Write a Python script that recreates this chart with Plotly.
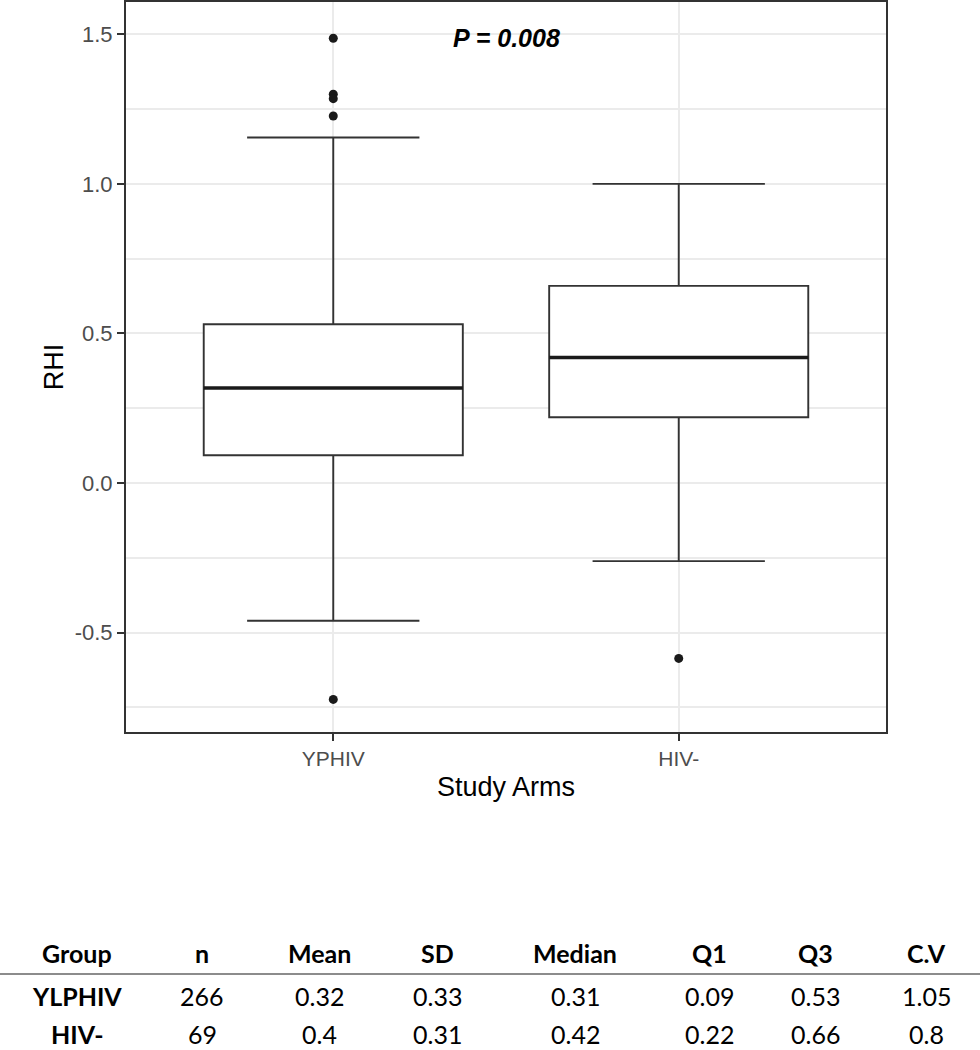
import plotly.graph_objects as go

# ---- box plot data ----
arms = ["YPHIV", "HIV-"]
arm_pos = [0, 1]
box_q1 = [0.093, 0.220]
box_median = [0.318, 0.420]
box_q3 = [0.531, 0.659]
box_lower = [-0.460, -0.261]
box_upper = [1.155, 1.000]
outliers_yphiv = [1.487, 1.300, 1.285, 1.227, -0.723]
outliers_hiv = [-0.586]
p_text = "P = 0.008"

# ---- summary table ----
tbl_header = ["Group", "n", "Mean", "SD", "Median", "Q1", "Q3", "C.V"]
tbl_group = ["YLPHIV", "HIV-"]
tbl_n = ["266", "69"]
tbl_mean = ["0.32", "0.4"]
tbl_sd = ["0.33", "0.31"]
tbl_median = ["0.31", "0.42"]
tbl_q1 = ["0.09", "0.22"]
tbl_q3 = ["0.53", "0.66"]
tbl_cv = ["1.05", "0.8"]

W, H = 980, 1050
ML, MR, MT, MB = 126, 94, 2, 318
PW, PH = W - ML - MR, H - MT - MB
BOXW = 0.75
LINE = "#333333"

def px_x(px):
    return (px - ML) / PW

def px_y(py):
    return (H - MB - py) / PH

fig = go.Figure()

for i in range(len(arms)):
    fig.add_trace(go.Box(
        x=[arm_pos[i]], q1=[box_q1[i]], median=[box_median[i]], q3=[box_q3[i]],
        lowerfence=[box_lower[i]], upperfence=[box_upper[i]],
        width=BOXW, whiskerwidth=0.665, boxpoints=False,
        fillcolor="white", line=dict(color=LINE, width=1.9),
        showlegend=False, hoverinfo="skip"))
    # thicker median line
    fig.add_trace(go.Scatter(
        x=[arm_pos[i] - BOXW / 2, arm_pos[i] + BOXW / 2],
        y=[box_median[i], box_median[i]], mode="lines",
        line=dict(color="#1A1A1A", width=3.4), showlegend=False, hoverinfo="skip"))

fig.add_trace(go.Scatter(
    x=[arm_pos[0]] * len(outliers_yphiv) + [arm_pos[1]] * len(outliers_hiv),
    y=outliers_yphiv + outliers_hiv, mode="markers",
    marker=dict(color="#1A1A1A", size=9), showlegend=False, hoverinfo="skip"))

fig.add_annotation(x=0.5, y=1.489, xref="x", yref="y", text="<b><i>" + p_text + "</i></b>",
                   showarrow=False, font=dict(family="Liberation Sans, Arial", size=25, color="black"))

# table
col_x = [77, 202, 319, 437, 575, 709, 815, 926]
row_y = [953, 996, 1034]
TF = "Lato, Liberation Sans, sans-serif"
for j, h in enumerate(tbl_header):
    fig.add_annotation(x=px_x(col_x[j]), y=px_y(row_y[0]), xref="paper", yref="paper",
                       text="<b>" + h + "</b>", showarrow=False, xanchor="center", yanchor="middle",
                       font=dict(family=TF, size=25, color="black"))
cols = [tbl_group, tbl_n, tbl_mean, tbl_sd, tbl_median, tbl_q1, tbl_q3, tbl_cv]
for r in range(len(tbl_group)):
    for j, col in enumerate(cols):
        txt = col[r]
        if j == 0:
            txt = "<b>" + txt + "</b>"
        fig.add_annotation(x=px_x(col_x[j]), y=px_y(row_y[r + 1]), xref="paper", yref="paper",
                           text=txt, showarrow=False, xanchor="center", yanchor="middle",
                           font=dict(family=TF, size=25, color="black"))

fig.add_shape(type="line", xref="paper", yref="paper", x0=px_x(0), x1=px_x(W),
              y0=px_y(974), y1=px_y(974), line=dict(color="#8C8C8C", width=2))

fig.update_layout(
    width=W, height=H, margin=dict(l=ML, r=MR, t=MT, b=MB, autoexpand=False),
    plot_bgcolor="white", paper_bgcolor="white",
    font=dict(family="Liberation Sans, Arial", color="black"),
)
fig.update_xaxes(
    range=[-0.6, 1.6], tickvals=arm_pos, ticktext=arms,
    showgrid=True, gridcolor="#EBEBEB", gridwidth=1.5, zeroline=False,
    showline=True, linecolor=LINE, linewidth=2, mirror=True,
    ticks="outside", ticklen=7, tickwidth=1.8, tickcolor=LINE,
    tickfont=dict(size=21, color="#4D4D4D"),
    title=dict(text="Study Arms", font=dict(size=27, color="black"), standoff=8),
)
fig.update_yaxes(
    range=[-0.832, 1.608], tickvals=[-0.5, 0.0, 0.5, 1.0, 1.5],
    ticktext=["-0.5", "0.0", "0.5", "1.0", "1.5"],
    showgrid=True, gridcolor="#EBEBEB", gridwidth=1.5, zeroline=False,
    minor=dict(tickvals=[-0.75, -0.25, 0.25, 0.75, 1.25], showgrid=True,
               gridcolor="#EBEBEB", gridwidth=1.5, ticks=""),
    showline=True, linecolor=LINE, linewidth=2, mirror=True,
    ticks="outside", ticklen=7, tickwidth=1.8, tickcolor=LINE,
    tickfont=dict(size=22, color="#4D4D4D"),
    title=dict(text="RHI", font=dict(size=27, color="black"), standoff=3),
)

fig.write_html("out.html", config={"displayModeBar": False},
               post_script="document.body.style.margin='0';document.body.style.padding='0';")
